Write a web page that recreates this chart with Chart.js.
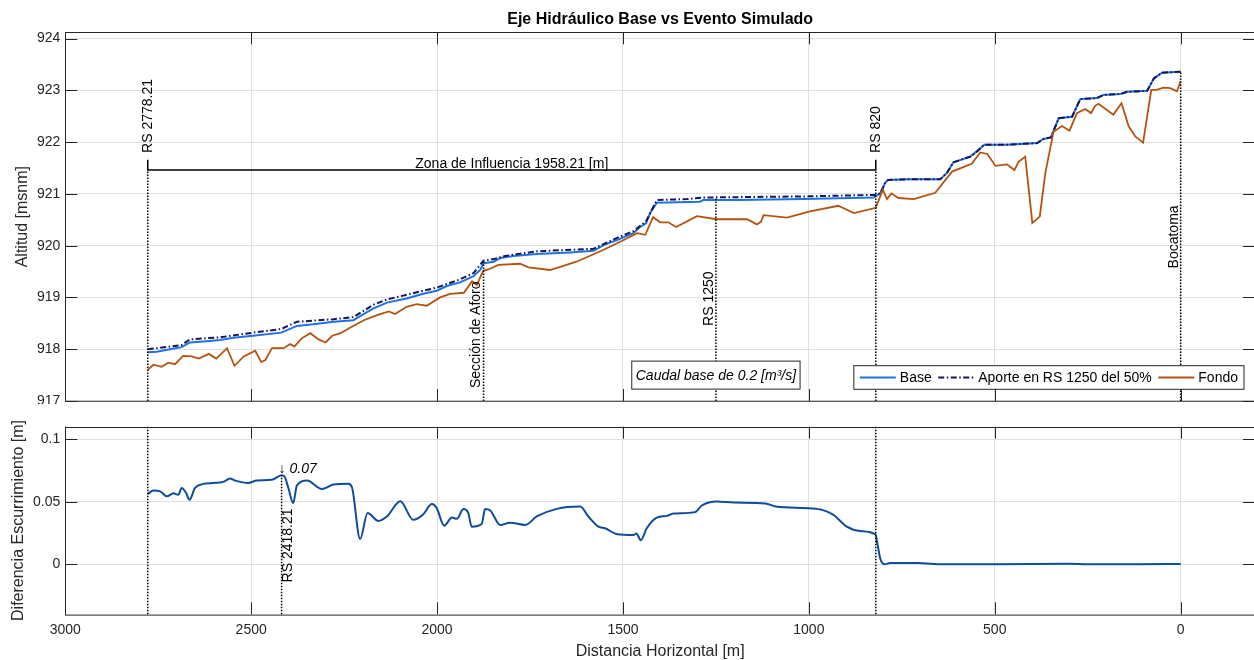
<!DOCTYPE html>
<html>
<head>
<meta charset="utf-8">
<script src="https://cdn.jsdelivr.net/npm/chart.js@4.4.0/dist/chart.umd.min.js"></script>
<style>
    html, body { margin: 0; padding: 0; background: #fff; overflow: hidden; width: 1254px; height: 660px; }
    #wrap { position: relative; width: 1254px; height: 660px; }
    canvas { position: absolute; left: 0; }
    #chart-eje { top: 0; }
    #chart-dif { top: 404px; }
</style>
</head>
<body>
<div id="wrap">
    <canvas id="chart-eje" width="1256" height="404"></canvas>
    <canvas id="chart-dif" width="1256" height="258"></canvas>
</div>
<script>
/* ========================================
   Eje hidráulico base vs evento simulado
   ======================================== */

// [distancia horizontal m, cota msnm]
const ejeBase = [
    [2778.21, 917.94], [2754, 917.95], [2719, 918.00], [2687, 918.04], [2665, 918.13], [2628, 918.15],
    [2584, 918.18], [2548, 918.22], [2495, 918.26], [2419, 918.32], [2377, 918.45], [2333, 918.48],
    [2278, 918.53], [2225, 918.56], [2207, 918.64], [2171, 918.79], [2135, 918.90], [2082, 918.98],
    [2037, 919.07], [2001, 919.13], [1974, 919.22], [1938, 919.29], [1902, 919.41], [1884, 919.53],
    [1875, 919.66], [1848, 919.69], [1830, 919.76], [1795, 919.80], [1732, 919.84], [1642, 919.87],
    [1579, 919.90], [1552, 920.01], [1516, 920.11], [1472, 920.24], [1454, 920.36], [1438, 920.43],
    [1427, 920.63], [1409, 920.83], [1355, 920.84], [1293, 920.85], [1284, 920.88], [1193, 920.88],
    [1014, 920.90], [826, 920.93], [819, 920.96], [808, 921.01], [795, 921.21], [787, 921.27],
    [736, 921.28], [647, 921.28], [629, 921.40], [611, 921.61], [566, 921.72], [548, 921.82],
    [528, 921.95], [467, 921.95], [386, 921.98], [369, 922.06], [349, 922.09], [328, 922.46],
    [292, 922.49], [270, 922.83], [225, 922.85], [208, 922.91], [162, 922.93], [144, 922.97],
    [90, 922.99], [72, 923.23], [50, 923.34], [0, 923.36]
];

const ejeAporte = [
    [2778.21, 918.00], [2754, 918.02], [2719, 918.05], [2687, 918.08], [2665, 918.19], [2584, 918.23],
    [2495, 918.32], [2419, 918.39], [2377, 918.53], [2278, 918.58], [2225, 918.62], [2171, 918.86],
    [2135, 918.96], [2037, 919.13], [2001, 919.19], [1938, 919.35], [1902, 919.47], [1875, 919.71],
    [1848, 919.74], [1817, 919.80], [1732, 919.89], [1579, 919.94], [1516, 920.15], [1472, 920.28],
    [1438, 920.47], [1409, 920.88], [1328, 920.90], [1284, 920.93], [1014, 920.95], [826, 920.98],
    [819, 920.985], [808, 921.01], [795, 921.21], [787, 921.27], [736, 921.28], [647, 921.28],
    [629, 921.40], [611, 921.61], [566, 921.72], [548, 921.82], [528, 921.95], [467, 921.95],
    [386, 921.98], [369, 922.06], [349, 922.09], [328, 922.46], [292, 922.49], [270, 922.83],
    [225, 922.85], [208, 922.91], [162, 922.93], [144, 922.97], [90, 922.99], [72, 923.23],
    [50, 923.34], [0, 923.36]
];

const fondo = [
    [2778.21, 917.60], [2763, 917.70], [2741, 917.66], [2723, 917.74], [2705, 917.71], [2683, 917.87],
    [2660, 917.86], [2641, 917.82], [2614, 917.91], [2594, 917.82], [2565, 918.02], [2545, 917.68],
    [2520, 917.86], [2489, 917.97], [2473, 917.75], [2462, 917.79], [2444, 918.02], [2413, 918.02],
    [2395, 918.10], [2384, 918.05], [2364, 918.21], [2341, 918.31], [2319, 918.19], [2300, 918.13],
    [2282, 918.26], [2260, 918.31], [2233, 918.42], [2197, 918.56], [2161, 918.66], [2130, 918.73],
    [2113, 918.68], [2082, 918.82], [2055, 918.87], [2028, 918.84], [1992, 919.00], [1965, 919.07],
    [1928, 919.09], [1906, 919.31], [1893, 919.24], [1879, 919.47], [1875, 919.52], [1862, 919.54],
    [1835, 919.63], [1777, 919.65], [1754, 919.58], [1696, 919.53], [1625, 919.69], [1552, 919.92],
    [1498, 920.11], [1462, 920.24], [1440, 920.21], [1419, 920.55], [1400, 920.45], [1378, 920.45],
    [1357, 920.36], [1301, 920.57], [1248, 920.51], [1166, 920.51], [1140, 920.41], [1129, 920.46],
    [1122, 920.59], [1059, 920.54], [997, 920.66], [921, 920.77], [879, 920.63], [820, 920.73],
    [801, 921.08], [790, 920.90], [778, 921.01], [759, 920.92], [718, 920.90], [660, 921.02],
    [615, 921.43], [562, 921.58], [539, 921.80], [520, 921.77], [498, 921.54], [467, 921.57],
    [447, 921.46], [436, 921.62], [418, 921.72], [399, 920.44], [379, 920.56], [364, 921.40],
    [342, 922.20], [319, 922.31], [299, 922.22], [279, 922.56], [257, 922.64], [241, 922.56],
    [230, 922.70], [221, 922.74], [181, 922.53], [159, 922.75], [140, 922.31], [122, 922.11],
    [101, 921.99], [79, 923.01], [65, 923.01], [46, 923.05], [28, 923.04], [10, 922.98], [0, 923.18]
];

// [distancia horizontal m, diferencia m]
const difEscurrimiento = [
    [2778.21, 0.0562], [2763, 0.0589], [2745, 0.0583], [2727, 0.0543], [2709, 0.0567], [2696, 0.0556],
    [2687, 0.0610], [2675, 0.0570], [2666, 0.0516], [2651, 0.0610], [2629, 0.0643], [2602, 0.0650],
    [2575, 0.0659], [2557, 0.0685], [2543, 0.0669], [2508, 0.0650], [2485, 0.0669], [2445, 0.0675],
    [2418.21, 0.0712], [2410, 0.0700], [2400, 0.0610], [2387, 0.0490], [2377, 0.0631], [2350, 0.0669],
    [2310, 0.0602], [2279, 0.0637], [2239, 0.0643], [2229, 0.0616], [2207, 0.0202], [2187, 0.0409],
    [2158, 0.0347], [2135, 0.0382], [2099, 0.0503], [2064, 0.0355], [2037, 0.0400], [2014, 0.0481],
    [2001, 0.0449], [1981, 0.0309], [1960, 0.0373], [1947, 0.0363], [1929, 0.0441], [1916, 0.0409],
    [1907, 0.0301], [1880, 0.0322], [1871, 0.0441], [1857, 0.0430], [1830, 0.0314], [1804, 0.0333],
    [1763, 0.0314], [1732, 0.0382], [1678, 0.0443], [1615, 0.0462], [1593, 0.0382], [1566, 0.0301],
    [1548, 0.0288], [1516, 0.0240], [1472, 0.0234], [1464, 0.0247], [1452, 0.0193], [1436, 0.0288],
    [1409, 0.0373], [1382, 0.0387], [1364, 0.0406], [1306, 0.0417], [1288, 0.0470], [1247, 0.0502],
    [1203, 0.0494], [1117, 0.0486], [1086, 0.0460], [978, 0.0443], [934, 0.0395], [898, 0.0301],
    [862, 0.0266], [821, 0.0239], [815, 0.0153], [808, 0.0046], [797, 0.0000], [781, 0.0010],
    [709, 0.0010], [638, 0.0000], [500, 0.0000], [300, 0.0004], [250, 0.0000], [120, 0.0000], [0, 0.0002]
];

const ticksDist = [3000, 2500, 2000, 1500, 1000, 500, 0];
const ticksCota = [917, 918, 919, 920, 921, 922, 923, 924];
const ticksDif = [0, 0.05, 0.1];

// Secciones marcadas: posición y cota hasta donde llega la línea punteada
const seccionesEje = [
    { x: 2778.21, hasta: 921.46 },
    { x: 1875, hasta: 919.69 },
    { x: 1250, hasta: 920.92 },
    { x: 820, hasta: 921.46 },
    { x: 0, hasta: 923.36 }
];
const rotulosEje = [
    { txt: 'RS 2778.21', x: 2778.21, y: 921.79, base: 'middle' },
    { txt: 'Sección de Aforo', x: 1875, y: 917.25, base: 'bottom' },
    { txt: 'RS 1250', x: 1250, y: 918.45, base: 'bottom' },
    { txt: 'RS 820', x: 820, y: 921.79, base: 'middle' },
    { txt: 'Bocatoma', x: 0, y: 919.56, base: 'bottom' }
];
const zona = { desde: 2778.21, hasta: 820, cota: 921.46, remate: 921.66, txt: 'Zona de Influencia 1958.21 [m]' };
const caudal = { x: 1250, y: 917.5, txt: 'Caudal base de 0.2 [m³/s]' };

const seccionesDif = [
    { x: 2778.21, hasta: 0.11 },
    { x: 2418.21, hasta: 0.0712 },
    { x: 820, hasta: 0.11 }
];
const rotuloDif = { txt: 'RS 2418.21', x: 2418.21, y: -0.0145 };
const maximoDif = { txt: '\u2193 0.07', x: 2418.21, y: 0.0712 };

const FAMILIA = "'Liberation Sans', Arial, Helvetica, sans-serif";
const GRILLA = '#dfdfdf';
const EJE = '#262626';
const LARGO_TICK = 12;

Chart.defaults.font.family = FAMILIA;
Chart.defaults.font.size = 14;
Chart.defaults.color = EJE;

const aPuntos = arr => arr.map(([x, y]) => ({ x, y }));
const ticksFijos = valores => s => { s.ticks = valores.map(v => ({ value: v })); };

// Caja de ejes con marcas hacia adentro en los cuatro lados
const marcoEjes = {
    id: 'marcoEjes',
    afterDatasetsDraw(chart) {
        const { ctx, chartArea: a, scales: { x, y } } = chart;
        ctx.save();
        ctx.strokeStyle = EJE;
        ctx.lineWidth = 1;
        ctx.setLineDash([]);
        ctx.beginPath();
        for (const t of x.ticks) {
            const px = Math.round(x.getPixelForValue(t.value)) + 0.5;
            ctx.moveTo(px, a.bottom); ctx.lineTo(px, a.bottom - LARGO_TICK);
            ctx.moveTo(px, a.top); ctx.lineTo(px, a.top + LARGO_TICK);
        }
        for (const t of y.ticks) {
            const py = Math.round(y.getPixelForValue(t.value)) + 0.5;
            ctx.moveTo(a.left, py); ctx.lineTo(a.left + LARGO_TICK, py);
            ctx.moveTo(a.right, py); ctx.lineTo(a.right - LARGO_TICK, py);
        }
        ctx.stroke();
        ctx.strokeRect(Math.round(a.left) + 0.5, Math.round(a.top) + 0.5, a.width, a.height);
        ctx.restore();
    }
};

function punteada(ctx, px, y0, y1) {
    ctx.save();
    ctx.strokeStyle = '#000';
    ctx.lineWidth = 1.5;
    ctx.setLineDash([1.5, 1.5]);
    ctx.beginPath();
    ctx.moveTo(px, y0);
    ctx.lineTo(px, y1);
    ctx.stroke();
    ctx.restore();
}

function textoVertical(ctx, txt, px, py, base) {
    ctx.save();
    ctx.translate(px, py);
    ctx.rotate(-Math.PI / 2);
    ctx.font = `14px ${FAMILIA}`;
    ctx.fillStyle = '#000';
    ctx.textAlign = 'left';
    ctx.textBaseline = base;
    ctx.fillText(txt, 0, 0);
    ctx.restore();
}

function dibujarLeyenda(chart) {
    const { ctx, chartArea: a } = chart;
    ctx.save();
    ctx.font = `14px ${FAMILIA}`;
    const items = chart.data.datasets.map(d => ({ d, w: ctx.measureText(d.label).width }));
    const alto = 23.6;
    const ancho = 12 + items.reduce((s, it) => s + 40 + it.w, 0) + 6.5 * (items.length - 1);
    const x0 = a.right - 11 - ancho;
    const y0 = a.bottom - 11.7 - alto;
    ctx.fillStyle = '#fff';
    ctx.fillRect(x0, y0, ancho, alto);
    ctx.strokeStyle = EJE;
    ctx.lineWidth = 1;
    ctx.strokeRect(x0, y0, ancho, alto);
    const cy = y0 + alto / 2;
    let cx = x0 + 6;
    for (const it of items) {
        ctx.beginPath();
        ctx.setLineDash(it.d.borderDash || []);
        ctx.strokeStyle = it.d.borderColor;
        ctx.lineWidth = it.d.borderWidth;
        ctx.moveTo(cx, cy);
        ctx.lineTo(cx + 36, cy);
        ctx.stroke();
        ctx.setLineDash([]);
        ctx.fillStyle = '#000';
        ctx.textAlign = 'left';
        ctx.textBaseline = 'middle';
        ctx.fillText(it.d.label, cx + 40, cy + 1);
        cx += 40 + it.w + 6.5;
    }
    ctx.restore();
}

const anotacionesEje = {
    id: 'anotacionesEje',
    afterDatasetsDraw(chart) {
        const { ctx, scales: { x, y } } = chart;
        const piso = y.getPixelForValue(y.min);

        for (const s of seccionesEje) punteada(ctx, x.getPixelForValue(s.x), piso, y.getPixelForValue(s.hasta));
        for (const r of rotulosEje) textoVertical(ctx, r.txt, x.getPixelForValue(r.x), y.getPixelForValue(r.y), r.base);

        // Cota de la zona de influencia entre RS 2778.21 y RS 820
        const xa = x.getPixelForValue(zona.desde), xb = x.getPixelForValue(zona.hasta);
        const yz = y.getPixelForValue(zona.cota), yr = y.getPixelForValue(zona.remate);
        ctx.save();
        ctx.strokeStyle = '#000';
        ctx.lineWidth = 1.5;
        ctx.beginPath();
        ctx.moveTo(xa, yr); ctx.lineTo(xa, yz); ctx.lineTo(xb, yz); ctx.lineTo(xb, yr);
        ctx.stroke();
        ctx.font = `14px ${FAMILIA}`;
        ctx.fillStyle = '#000';
        ctx.textAlign = 'center';
        ctx.textBaseline = 'bottom';
        ctx.fillText(zona.txt, (xa + xb) / 2, yz + 1);

        // Recuadro del caudal base
        ctx.font = `italic 14px ${FAMILIA}`;
        const wc = ctx.measureText(caudal.txt).width;
        const cx = x.getPixelForValue(caudal.x), cy = y.getPixelForValue(caudal.y);
        ctx.fillStyle = '#fff';
        ctx.fillRect(cx - wc / 2 - 4, cy - 14, wc + 8, 28);
        ctx.strokeStyle = EJE;
        ctx.lineWidth = 1;
        ctx.strokeRect(cx - wc / 2 - 4, cy - 14, wc + 8, 28);
        ctx.fillStyle = '#000';
        ctx.textAlign = 'center';
        ctx.textBaseline = 'middle';
        ctx.fillText(caudal.txt, cx, cy + 1);
        ctx.restore();

        dibujarLeyenda(chart);
    }
};

const anotacionesDif = {
    id: 'anotacionesDif',
    afterDatasetsDraw(chart) {
        const { ctx, scales: { x, y } } = chart;
        const piso = y.getPixelForValue(y.min);
        for (const s of seccionesDif) punteada(ctx, x.getPixelForValue(s.x), piso, y.getPixelForValue(s.hasta));
        textoVertical(ctx, rotuloDif.txt, x.getPixelForValue(rotuloDif.x), y.getPixelForValue(rotuloDif.y), 'top');
        ctx.save();
        ctx.font = `italic 14px ${FAMILIA}`;
        ctx.fillStyle = '#000';
        ctx.textAlign = 'left';
        ctx.textBaseline = 'bottom';
        ctx.fillText(maximoDif.txt, x.getPixelForValue(maximoDif.x) - 3, y.getPixelForValue(maximoDif.y) + 1);
        ctx.restore();
    }
};

const ejeX = (extra) => Object.assign({
    type: 'linear',
    reverse: true,
    min: -200,
    max: 3000,
    afterBuildTicks: ticksFijos(ticksDist),
    grid: { color: GRILLA, drawTicks: false },
    border: { display: false }
}, extra);

new Chart(document.getElementById('chart-eje'), {
    type: 'line',
    data: {
        // order alto se dibuja primero: Base debajo, Fondo encima
        datasets: [
            { label: 'Base', data: aPuntos(ejeBase), borderColor: '#1f72e0', borderWidth: 2, order: 3 },
            { label: 'Aporte en RS 1250 del 50%', data: aPuntos(ejeAporte), borderColor: '#16165c', borderWidth: 2, borderDash: [6, 2.5, 1.5, 2.5], order: 2 },
            { label: 'Fondo', data: aPuntos(fondo), borderColor: '#b4520f', borderWidth: 1.8, order: 1 }
        ]
    },
    options: {
        responsive: false,
        animation: false,
        events: [],
        devicePixelRatio: 1,
        elements: { point: { radius: 0 }, line: { tension: 0 } },
        layout: { padding: { top: 0, right: 1, bottom: 3, left: 0 } },
        plugins: {
            legend: { display: false },
            tooltip: { enabled: false },
            title: {
                display: true, fullSize: false, color: '#000',
                text: 'Eje Hidráulico Base vs Evento Simulado',
                font: { size: 16, weight: 'bold' },
                padding: { top: 10.1, bottom: 3 }
            }
        },
        scales: {
            x: ejeX({
                ticks: { display: false },
                afterFit: s => { s.height = 0; s.paddingLeft = 0; s.paddingRight = 0; }
            }),
            y: {
                min: 917, max: 924.12,
                afterBuildTicks: ticksFijos(ticksCota),
                afterFit: s => { s.width = 65.3; s.paddingTop = 0; s.paddingBottom = 0; },
                ticks: { padding: 5, autoSkip: false, callback: v => String(v) },
                grid: { color: GRILLA, drawTicks: false },
                border: { display: false },
                title: { display: true, text: 'Altitud [msnm]', font: { size: 16 }, padding: { top: 12.9, bottom: 0 } }
            }
        }
    },
    plugins: [anotacionesEje, marcoEjes]
});

new Chart(document.getElementById('chart-dif'), {
    type: 'line',
    data: {
        datasets: [
            { label: 'Diferencia', data: aPuntos(difEscurrimiento), borderColor: '#0f4c99', borderWidth: 2, cubicInterpolationMode: 'monotone' }
        ]
    },
    options: {
        responsive: false,
        animation: false,
        events: [],
        devicePixelRatio: 1,
        elements: { point: { radius: 0 } },
        layout: { padding: { top: 22.7, right: 1, bottom: 0, left: 0 } },
        plugins: { legend: { display: false }, tooltip: { enabled: false } },
        scales: {
            x: ejeX({
                ticks: { padding: 7.3, autoSkip: false, maxRotation: 0, callback: v => String(v) },
                afterFit: s => { s.height = 47.7; s.paddingLeft = 0; s.paddingRight = 0; },
                title: { display: true, text: 'Distancia Horizontal [m]', font: { size: 16 }, padding: { top: 0, bottom: 0.4 } }
            }),
            y: {
                min: -0.04, max: 0.11,
                afterBuildTicks: ticksFijos(ticksDif),
                afterFit: s => { s.width = 65.3; s.paddingTop = 0; s.paddingBottom = 0; },
                ticks: { padding: 5, autoSkip: false, callback: v => String(v) },
                grid: { color: GRILLA, drawTicks: false },
                border: { display: false },
                title: { display: true, text: 'Diferencia Escurrimiento [m]', font: { size: 16 }, padding: { top: 8.9, bottom: 0 } }
            }
        }
    },
    plugins: [anotacionesDif, marcoEjes]
});
</script>
</body>
</html>
